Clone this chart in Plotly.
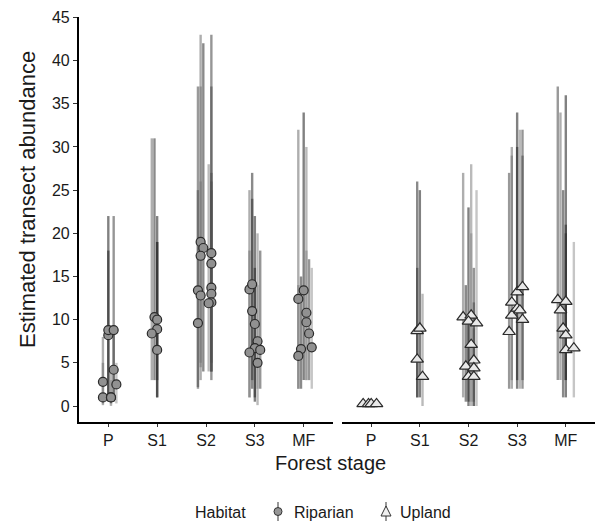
import plotly.graph_objects as go

stages = ["P", "S1", "S2", "S3", "MF"]
y_ticks = [0, 5, 10, 15, 20, 25, 30, 35, 40, 45]

# ---------------- Riparian (left panel) ----------------
rip_stage = ([0] * 9 + [1] * 5 + [2] * 12 + [3] * 9 + [4] * 8)
rip_slot = ([-2, -2, 0, 0, 1, 1, 2, 2, 3] +
            [-1, 0, 0, -2, 0] +
            [-2, -1, -2, 2, 2, -3, 2, 2, 2, -2, 1, -3] +
            [-2, -1, -1, 0, 1, 0, 2, -2, 1] +
            [-2, 0, 1, 1, 2, 3, -1, -2])
rip_est = ([2.8, 1.0, 8.2, 8.8, 1.0, 1.0, 4.2, 8.8, 2.5] +
           [10.3, 10.0, 8.9, 8.4, 6.5] +
           [19.0, 18.3, 17.4, 17.7, 16.5, 13.4, 13.7, 13.0, 12.0, 12.8, 11.9, 9.6] +
           [13.5, 14.1, 11.0, 9.5, 7.5, 6.7, 6.5, 6.2, 5.0] +
           [12.4, 13.4, 10.8, 9.7, 8.4, 6.8, 6.6, 5.8])
rip_lo = ([0.3, 0.1, 0.5, 1.0, 0.0, 0.2, 0.5, 0.6, 0.3] +
          [3.0, 1.0, 3.0, 3.0, 1.0] +
          [5.0, 4.0, 4.5, 4.0, 5.0, 2.0, 3.0, 4.0, 4.0, 3.0, 4.0, 2.2] +
          [1.0, 3.0, 2.0, 1.0, 2.0, 0.5, 2.0, 1.0, 0.1] +
          [2.0, 3.0, 3.0, 3.0, 3.0, 2.0, 2.0, 2.0])
rip_hi = ([8.0, 5.0, 22.0, 18.0, 4.0, 3.0, 9.0, 22.0, 5.0] +
          [31.0, 19.0, 22.0, 31.0, 19.0] +
          [43.0, 42.0, 37.0, 43.0, 37.0, 37.0, 27.0, 26.0, 25.0, 26.0, 28.0, 25.0] +
          [25.0, 27.0, 24.0, 22.0, 20.0, 16.0, 18.0, 18.0, 14.0] +
          [32.0, 34.0, 30.0, 18.0, 17.0, 16.0, 15.0, 14.0])

# ---------------- Upland (right panel) ----------------
upl_stage = ([0] * 4 + [1] * 4 + [2] * 10 + [3] * 8 + [4] * 7)
upl_slot = ([-3, -1, 0, 2] +
            [-1, 0, -1, 1] +
            [-2, 1, 0, 3, 1, 2, -1, 2, 0, 2] +
            [-3, -2, -2, 0, 2, 0, 1, 2] +
            [-3, 0, -2, -1, 0, 0, 3])
upl_est = ([0.25, 0.25, 0.25, 0.25] +
           [8.7, 9.0, 5.4, 3.4] +
           [10.3, 10.5, 9.8, 9.6, 7.1, 5.3, 4.6, 4.4, 3.4, 3.4] +
           [8.6, 10.5, 12.0, 13.2, 13.8, 11.3, 11.1, 10.0] +
           [12.3, 12.1, 11.1, 9.0, 8.2, 6.5, 6.7])
upl_lo = ([0.0, 0.0, 0.0, 0.0] +
          [1.0, 1.0, 1.0, 0.0] +
          [1.0, 0.5, 0.0, 0.0, 0.0, 0.5, 0.5, 0.0, 0.5, 0.0] +
          [2.0, 2.0, 3.0, 2.0, 3.0, 3.0, 2.0, 2.0] +
          [3.0, 3.0, 3.0, 1.0, 3.0, 1.0, 1.0])
upl_hi = ([0.6, 0.6, 0.6, 0.6] +
          [26.0, 25.0, 16.0, 13.0] +
          [27.0, 28.0, 23.0, 25.0, 20.0, 16.0, 14.0, 12.0, 10.0, 9.0] +
          [27.0, 29.0, 30.0, 34.0, 32.0, 30.0, 32.0, 29.0] +
          [37.0, 36.0, 34.0, 25.0, 21.0, 20.0, 19.0])

# ---------------- styling ----------------
DODGE = 0.055
slot_color = {-3: "rgba(85,85,85,0.6)", -2: "rgba(120,120,120,0.6)",
              -1: "rgba(60,60,60,0.6)", 0: "rgba(45,45,45,0.6)",
              1: "rgba(140,140,140,0.6)", 2: "rgba(80,80,80,0.6)",
              3: "rgba(160,160,160,0.6)"}
FONT = "Liberation Sans, Arial, sans-serif"
TXT = "#1a1a1a"

fig = go.Figure()


def add_panel(stage, slot, est, lo, hi, xa, symbol, fill, msize):
    xs_pos = [s + k * DODGE for s, k in zip(stage, slot)]
    for k in sorted(set(slot)):
        lx, ly = [], []
        for x, kk, a, b in zip(xs_pos, slot, lo, hi):
            if kk == k:
                lx += [x, x, None]
                ly += [a, b, None]
        fig.add_trace(go.Scatter(x=lx, y=ly, mode="lines", xaxis=xa, yaxis="y",
                                 line=dict(color=slot_color[k], width=2.4),
                                 hoverinfo="skip", showlegend=False))
    fig.add_trace(go.Scatter(x=xs_pos, y=est, mode="markers", xaxis=xa, yaxis="y",
                             marker=dict(symbol=symbol, size=msize, color=fill,
                                         line=dict(color="#2a2a2a", width=1.2)),
                             showlegend=False))


add_panel(rip_stage, rip_slot, rip_est, rip_lo, rip_hi, "x", "circle",
          "rgb(145,145,145)", 9)
add_panel(upl_stage, upl_slot, upl_est, upl_lo, upl_hi, "x2", "triangle-up",
          "rgb(232,232,232)", 11)

# geometry (pixels)
L, R, T, B = 79, 595, 17, 422
W, H = R - L, B - T


def px(x):
    return (x - L) / W


def py(y):
    return (B - y) / H


xcommon = dict(range=[-0.6, 4.6], tickvals=list(range(5)), ticktext=stages,
               showline=True, linecolor="black", linewidth=2.2, ticks="outside",
               ticklen=3, tickwidth=1, tickcolor="#333", showgrid=False,
               zeroline=False, tickfont=dict(family=FONT, size=16, color=TXT),
               anchor="y", fixedrange=True, automargin=False)

fig.update_layout(
    template="none",
    width=595, height=526,
    margin=dict(l=L, r=595 - R, t=T, b=526 - B, pad=0),
    paper_bgcolor="white", plot_bgcolor="white",
    showlegend=False,
    xaxis=dict(domain=[0, px(333)], **xcommon),
    xaxis2=dict(domain=[px(342), 1], **xcommon),
    yaxis=dict(range=[-1.85, 45.05], tickvals=y_ticks, showline=True,
               linecolor="black", linewidth=2.2, ticks="outside", ticklen=4,
               tickwidth=1, tickcolor="#333", showgrid=False, zeroline=False,
               tickfont=dict(family=FONT, size=16, color=TXT), anchor="x",
               fixedrange=True, automargin=False),
)


def note(text, x, y, size, xanchor="center", angle=0):
    return dict(text=text, x=px(x), y=py(y), xref="paper", yref="paper",
                xanchor=xanchor, yanchor="middle", textangle=angle,
                showarrow=False, font=dict(family=FONT, size=size, color=TXT))


annotations = [
    note("Forest stage", 330, 463, 20),
    note("Estimated transect abundance", 27, 200, 22, angle=-90),
    note("Habitat", 193, 512, 16, xanchor="left"),
    note("Riparian", 292, 512, 16, xanchor="left"),
    note("Upland", 398, 512, 16, xanchor="left"),
]
fig.update_layout(annotations=annotations)

shapes = []
# legend key: riparian
shapes.append(dict(type="line", xref="paper", yref="paper", x0=px(278), x1=px(278),
                   y0=py(502), y1=py(521), line=dict(color="#777", width=1.5)))
shapes.append(dict(type="circle", xref="paper", yref="paper",
                   x0=px(274), x1=px(282), y0=py(507.5), y1=py(515.5),
                   fillcolor="rgb(150,150,150)", line=dict(color="#333", width=1)))
# legend key: upland
shapes.append(dict(type="line", xref="paper", yref="paper", x0=px(386), x1=px(386),
                   y0=py(502), y1=py(521), line=dict(color="#777", width=1.5)))
path = "M {} {} L {} {} L {} {} Z".format(px(386), py(506), px(381), py(516),
                                          px(391), py(516))
shapes.append(dict(type="path", xref="paper", yref="paper", path=path,
                   fillcolor="rgb(240,240,240)", line=dict(color="#333", width=1)))
fig.update_layout(shapes=shapes)

fig.write_html("out.html", config={"displayModeBar": False},
               post_script="document.body.style.margin='0px';"
                           "document.body.style.padding='0px';")
